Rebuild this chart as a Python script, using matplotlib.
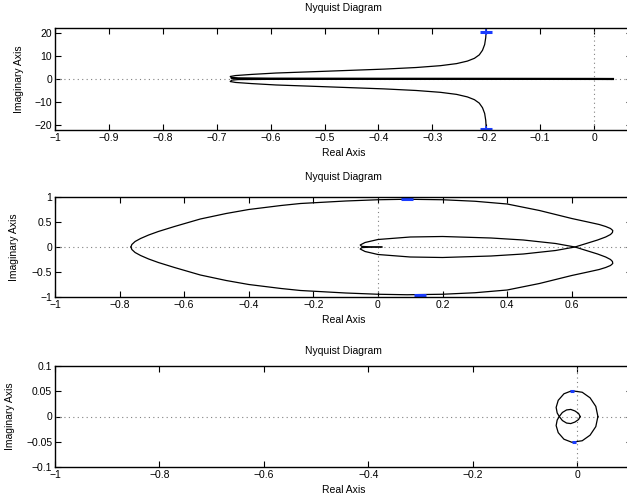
import numpy as np
import matplotlib
matplotlib.use("Agg")
import matplotlib.pyplot as plt

plt.rcParams['font.family'] = ['Liberation Sans', 'DejaVu Sans']
plt.rcParams['font.size'] = 7.5

# --- data (positive-frequency half of each curve) ---
# plot 1
re1 = [-0.200, -0.201, -0.203, -0.207, -0.213, -0.222, -0.235, -0.255, -0.285,
       -0.33, -0.39, -0.46, -0.53, -0.59, -0.635, -0.665, -0.675, -0.672,
       -0.66, -0.60, -0.40, -0.20, 0.0, 0.035]
im1 = [21.6, 18.0, 15.0, 12.5, 10.5, 9.0, 7.8, 6.7, 5.8,
       5.0, 4.3, 3.7, 3.1, 2.6, 2.0, 1.5, 1.1, 0.5,
       0.25, 0.15, 0.1, 0.07, 0.03, 0.0]
# plot 2
re2 = [-0.765, -0.762, -0.752, -0.735, -0.71, -0.68, -0.63, -0.55, -0.47, -0.40,
       -0.30, -0.24, -0.10, 0.0, 0.09, 0.20, 0.30, 0.40, 0.50, 0.60, 0.65,
       0.685, 0.705, 0.72, 0.727, 0.726, 0.72, 0.705, 0.68, 0.65, 0.61, 0.55,
       0.45, 0.35, 0.20, 0.10, 0.0, -0.04, -0.055, -0.05, -0.02, 0.012]
im2 = [0.0, 0.05, 0.11, 0.17, 0.24, 0.31, 0.41, 0.56, 0.67, 0.75,
       0.83, 0.87, 0.92, 0.945, 0.955, 0.945, 0.915, 0.86, 0.73, 0.57, 0.50,
       0.45, 0.41, 0.37, 0.33, 0.29, 0.25, 0.20, 0.14, 0.08, 0.0, -0.07,
       -0.14, -0.18, -0.21, -0.20, -0.15, -0.09, -0.04, -0.012, -0.002, 0.0]
# plot 3
re3 = [0.040, 0.036, 0.025, 0.010, -0.010, -0.025, -0.036, -0.040, -0.038,
       -0.034, -0.028, -0.020, -0.012, -0.004, 0.003, 0.006]
im3 = [0.0, 0.020, 0.037, 0.048, 0.051, 0.045, 0.032, 0.018, 0.007,
       0.0, -0.008, -0.013, -0.014, -0.011, -0.006, 0.0]

# blue direction marks (real part, imag part) for upper and lower branch
marks_up = [(-0.2, 20.6), (0.09, 0.955), (-0.01, 0.051)]
marks_dn = [(-0.2, -21.6), (0.13, -0.955), (-0.005, -0.051)]

curves = [(re1, im1), (re2, im2), (re3, im3)]
xlims = [(-1, 0.07), (-1, 0.786), (-1, 0.105)]
ylims = [(-22.2, 22.2), (-1, 1), (-0.1, 0.1)]
xticks = [np.arange(-1, 0.01, 0.1), np.arange(-1, 0.61, 0.2), np.arange(-1, 0.01, 0.2)]
yticks = [[-20, -10, 0, 10, 20], [-1, -0.5, 0, 0.5, 1], [-0.1, -0.05, 0, 0.05, 0.1]]


def fmt(v):
    v = round(float(v), 2)
    if abs(v) < 1e-9:
        return '0'
    return ('%g' % v).replace('-', '\u2212')


fig = plt.figure(figsize=(6.27, 5.0), dpi=100)
positions = [[0.0877, 0.740, 0.92, 0.204],
             [0.0877, 0.406, 0.92, 0.200],
             [0.0877, 0.066, 0.92, 0.202]]
title_pad = [12, 12, 9]
ylab_x = [-0.054, -0.062, -0.069]

for k in range(3):
    ax = fig.add_axes(positions[k])
    re = np.array(curves[k][0])
    im = np.array(curves[k][1])
    ax.axhline(0, color='0.5', ls=(0, (1, 3)), lw=0.8)
    ax.axvline(0, color='0.5', ls=(0, (1, 3)), lw=0.8)
    ax.plot(re, im, color='k', lw=0.9)
    ax.plot(re, -im, color='k', lw=0.9)
    if k == 0:
        ax.plot(re[17:], im[17:], color='k', lw=1.6)
    ms = 8 if k < 2 else 3
    for (mx, my) in (marks_up[k], marks_dn[k]):
        ax.plot(mx, my, marker='_', color='#1a3cff', ms=ms, mew=2.2, ls='none')
        if k == 0:
            ax.plot(mx, my, marker='|', color='#1a3cff', ms=4, mew=1.2, ls='none')
    ax.set_xlim(xlims[k])
    ax.set_ylim(ylims[k])
    ax.set_xticks(xticks[k])
    ax.set_yticks(yticks[k])
    ax.set_xticklabels([fmt(v) for v in xticks[k]])
    ax.set_yticklabels([fmt(v) for v in yticks[k]])
    ax.tick_params(direction='in', top=True, right=True, length=4, width=0.8,
                   labelsize=7.5, pad=2)
    for s in ax.spines.values():
        s.set_linewidth(1.0)
    ax.set_title('Nyquist Diagram', fontsize=7.5, pad=title_pad[k])
    ax.set_xlabel('Real Axis', fontsize=7.5, labelpad=4)
    ax.set_ylabel('Imaginary Axis', fontsize=7.5)
    ax.yaxis.set_label_coords(ylab_x[k], 0.5)

fig.savefig('out.png', dpi=100)
